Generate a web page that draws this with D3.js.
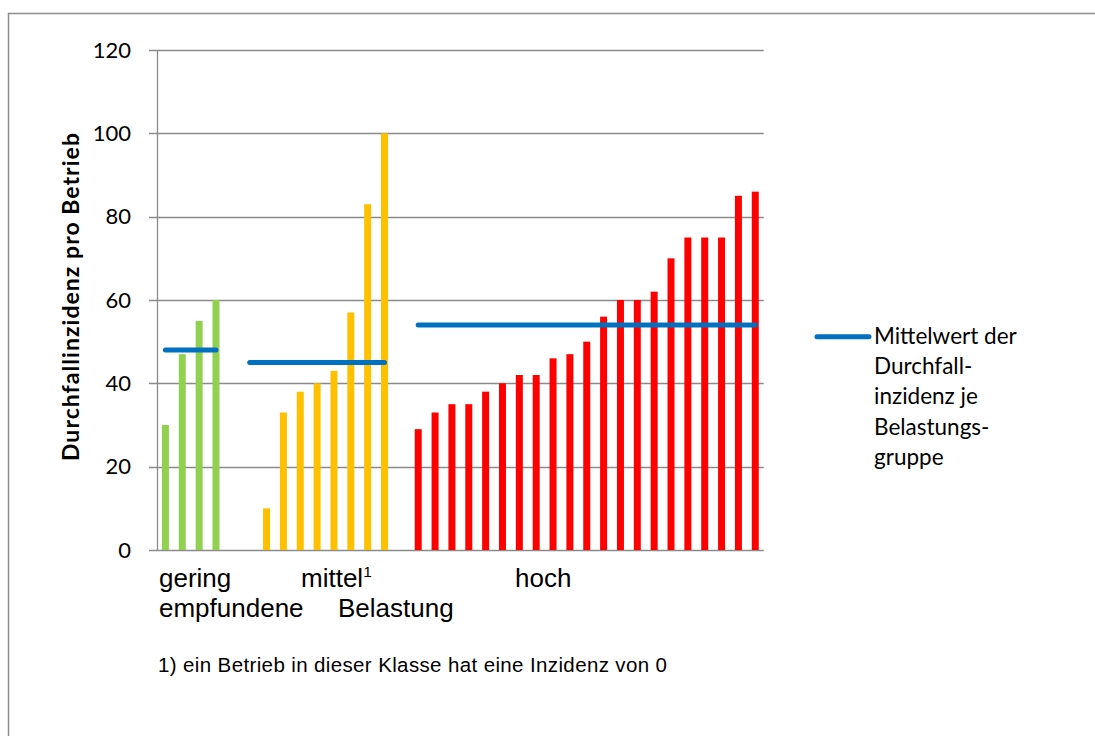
<!DOCTYPE html>
<html><head><meta charset="utf-8">
<script src="https://cdn.jsdelivr.net/npm/d3@7"></script>
<style>body{margin:0;background:#fff;} svg{display:block;}</style>
</head><body>
<script>
const groupNames = ["gering", "mittel", "hoch"];
const geringValues = [30, 47, 55, 60];
const mittelValues = [0, 10, 33, 38, 40, 43, 57, 83, 100];
const hochValues = [29, 33, 35, 35, 38, 40, 42, 42, 46, 47, 50, 56, 60, 60, 62, 70, 75, 75, 75, 85, 86];
const groupMeans = [48, 45, 54];
const groupColors = ["#92D050", "#FFC000", "#FF0000"];
const yTicks = [0, 20, 40, 60, 80, 100, 120];
const yTitle = "Durchfallinzidenz pro Betrieb";
const legendLines = ["Mittelwert der", "Durchfall-", "inzidenz je", "Belastungs-", "gruppe"];
const footnote = "1) ein Betrieb in dieser Klasse hat eine Inzidenz von 0";

const groups = [geringValues, mittelValues, hochValues];
// build slot list with one empty slot between groups
const slots = [];
groups.forEach((vals, gi) => {
  if (gi > 0) slots.push({slot: slots.length, group: -1, value: null});
  vals.forEach(v => slots.push({slot: slots.length, group: gi, value: v}));
});

const W = 1095, H = 736;
const svg = d3.select("body").append("svg").attr("width", W).attr("height", H);

// outer frame (top & left visible)
svg.append("rect").attr("x", 8.5).attr("y", 13.5).attr("width", 1200).attr("height", 800)
  .attr("fill", "none").attr("stroke", "#8c8c8c").attr("stroke-width", 1.5);

const x = d3.scaleBand().domain(slots.map(d => d.slot)).range([157, 763.7])
  .paddingInner(0.585).paddingOuter(0.2925);
const y = d3.scaleLinear().domain([0, 120]).range([550, 50]);

// gridlines
svg.append("g").selectAll("line").data(yTicks).join("line")
  .attr("x1", 149).attr("x2", 763.7)
  .attr("y1", d => Math.round(y(d)) + 0.5).attr("y2", d => Math.round(y(d)) + 0.5)
  .attr("stroke", "#8a8a8a").attr("stroke-width", 1.3);

// y axis line
svg.append("line").attr("x1", 157.5).attr("x2", 157.5).attr("y1", y(120)).attr("y2", y(0))
  .attr("stroke", "#8a8a8a").attr("stroke-width", 1.3);

// y tick labels
svg.append("g").selectAll("text").data(yTicks).join("text")
  .attr("x", 131).attr("y", d => y(d) + 7.5)
  .attr("text-anchor", "end").attr("font-family", "Lato, 'Open Sans', sans-serif")
  .attr("font-size", 22).attr("fill", "#000").text(d => d);

// bars
svg.append("g").selectAll("rect").data(slots.filter(d => d.group >= 0 && d.value > 0)).join("rect")
  .attr("x", d => x(d.slot)).attr("width", x.bandwidth())
  .attr("y", d => y(d.value)).attr("height", d => y(0) - y(d.value))
  .attr("fill", d => groupColors[d.group]);

// mean lines
groups.forEach((vals, gi) => {
  const s = slots.filter(d => d.group === gi);
  const m = groupMeans[gi];
  const cx = d => x(d.slot) + x.bandwidth() / 2;
  svg.append("line").attr("x1", cx(s[0])).attr("x2", cx(s[s.length - 1]))
    .attr("y1", y(m)).attr("y2", y(m))
    .attr("stroke", "#0070C0").attr("stroke-width", 5).attr("stroke-linecap", "round");
});

// y title
svg.append("text").attr("transform", "translate(79,297) rotate(-90)")
  .attr("text-anchor", "middle").attr("font-family", "Lato, 'Open Sans', sans-serif")
  .attr("font-weight", "bold").attr("font-size", 23)
  .attr("textLength", 328).attr("lengthAdjust", "spacing").text(yTitle);

// category labels
const lab = svg.append("g").attr("font-family", "'Liberation Sans', Arial, sans-serif")
  .attr("font-size", 26).attr("fill", "#000");
lab.append("text").attr("x", 159).attr("y", 587).text(groupNames[0]);
const mt = lab.append("text").attr("x", 301).attr("y", 587);
mt.append("tspan").text(groupNames[1]);
mt.append("tspan").attr("font-size", 15.5).attr("dy", -10).text("1");
lab.append("text").attr("x", 515).attr("y", 587).text(groupNames[2]);
lab.append("text").attr("x", 159).attr("y", 617).text("empfundene");
lab.append("text").attr("x", 338).attr("y", 617).text("Belastung");

// footnote
svg.append("text").attr("x", 158).attr("y", 672)
  .attr("font-family", "'Liberation Sans', Arial, sans-serif").attr("font-size", 20.5)
  .attr("textLength", 509).attr("lengthAdjust", "spacing")
  .text(footnote);

// legend
svg.append("line").attr("x1", 817).attr("x2", 869).attr("y1", 336.7).attr("y2", 336.7)
  .attr("stroke", "#0070C0").attr("stroke-width", 5).attr("stroke-linecap", "round");
svg.append("g").selectAll("text").data(legendLines).join("text")
  .attr("x", 874).attr("y", (d, i) => 344 + i * 30.2)
  .attr("font-family", "Lato, 'Open Sans', sans-serif").attr("font-size", 22.5)
  .text(d => d);
</script>
</body></html>
